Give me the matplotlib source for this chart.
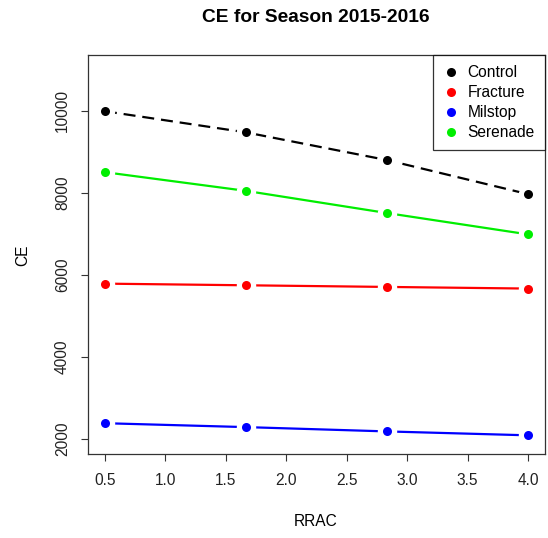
import numpy as np
import matplotlib.pyplot as plt
from matplotlib.lines import Line2D

plt.rcParams['font.family'] = ['Liberation Sans', 'DejaVu Sans']

# data
rrac = [0.5, 1.667, 2.833, 4.0]
control = [9990, 9475, 8800, 7970]
fracture = [5790, 5750, 5710, 5670]
milstop = [2390, 2295, 2190, 2095]
serenade = [8505, 8050, 7510, 6990]

series = [
    ("Control", control, "black", (0, (5.4, 3.1))),
    ("Fracture", fracture, "red", "-"),
    ("Milstop", milstop, "blue", "-"),
    ("Serenade", serenade, "#00ee00", "-"),
]

W, H = 548, 538
fig = plt.figure(figsize=(W / 100, H / 100), dpi=100)
ax = fig.add_axes([88 / W, 1 - 454 / H, (545 - 88) / W, (454 - 55) / H])

for name, vals, col, ls in series:
    ax.plot(rrac, vals, color=col, linestyle=ls, linewidth=1.6, zorder=2)
    # white disks give the gaps of an R type="b" plot
    ax.plot(rrac, vals, 'o', color='white', markersize=14, markeredgewidth=0, zorder=3)
    ax.plot(rrac, vals, 'o', color=col, markersize=6.5, markeredgewidth=0, zorder=4)

ax.set_xlim(0.36, 4.14)
ax.set_ylim(1640, 11360)
ax.set_xticks([0.5, 1.0, 1.5, 2.0, 2.5, 3.0, 3.5, 4.0])
ax.set_xticklabels(["0.5", "1.0", "1.5", "2.0", "2.5", "3.0", "3.5", "4.0"])
ax.set_yticks([2000, 4000, 6000, 8000, 10000])
ax.tick_params(direction='out', length=5, width=0.8, color='#333333',
               labelsize=11.2, colors='#222222')
ax.tick_params(axis='x', pad=9)
ax.tick_params(axis='y', pad=8)
for lab in ax.get_yticklabels():
    lab.set_rotation(90)
    lab.set_va('center')
for s in ax.spines.values():
    s.set_color('#333333')
    s.set_linewidth(0.9)

fig.text(316 / W, 1 - 18 / H, "CE for Season 2015-2016", ha='center', va='center',
         fontsize=13.8, fontweight='bold')
fig.text(316 / W, 1 - 522 / H, "RRAC", ha='center', va='center', fontsize=11.2)
fig.text(23 / W, 1 - 255 / H, "CE", ha='center', va='center', fontsize=11.2, rotation=90)

handles = [Line2D([], [], linestyle='none', marker='o', color=c, markersize=6.5,
                  markeredgewidth=0) for _, _, c, _ in series]
leg = ax.legend(handles, [s[0] for s in series], loc='upper right', fontsize=11.2,
                frameon=True, fancybox=False, edgecolor='black', borderaxespad=0,
                handlelength=1.0, handletextpad=0.6, labelspacing=0.32,
                borderpad=0.65)
leg.get_frame().set_linewidth(0.9)

fig.savefig("out.png", dpi=100)
